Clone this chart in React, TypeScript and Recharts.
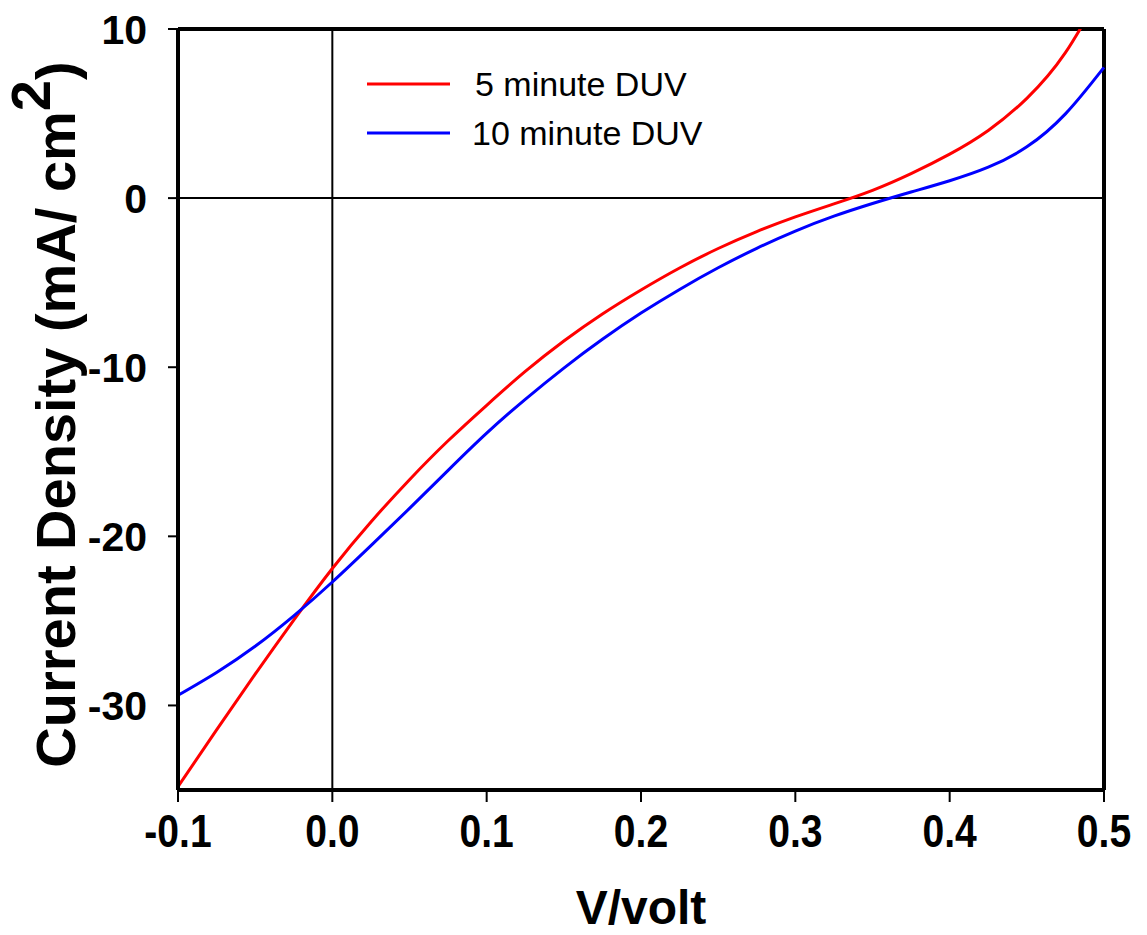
import { LineChart, Line, XAxis, YAxis, ReferenceLine } from "recharts";

// voltage sweep (V) and current density (mA/cm2)
const voltage = [
  -0.1, -0.075, -0.05, -0.025, 0, 0.025, 0.05, 0.075, 0.1, 0.125, 0.15, 0.175,
  0.2, 0.225, 0.25, 0.275, 0.3, 0.325, 0.35, 0.375, 0.4, 0.425, 0.45, 0.475, 0.5,
];
const duv5 = [
  -34.8, -31.45, -28.15, -24.95, -21.9, -19.15, -16.65, -14.35, -12.25, -10.25,
  -8.45, -6.85, -5.43, -4.13, -2.98, -1.98, -1.11, -0.34, 0.46, 1.45, 2.6, 4.0,
  5.9, 8.6, 12.5,
];
const duv10 = [
  -29.4, -28.05, -26.5, -24.7, -22.7, -20.55, -18.35, -16.1, -13.9, -11.9,
  -10.05, -8.35, -6.8, -5.4, -4.12, -2.97, -1.95, -1.07, -0.32, 0.36, 1.03, 1.83,
  3.03, 4.98, 7.73,
];
const xTicks = [-0.1, 0, 0.1, 0.2, 0.3, 0.4, 0.5];
const yTicks = [-30, -20, -10, 0, 10];
const seriesNames = ["5 minute DUV", "10 minute DUV"];
const seriesColors = ["#ff0000", "#0000ff"];

const data = voltage.map((v, i) => ({ v, a: duv5[i], b: duv10[i] }));

const FONT = "'Liberation Sans', Arial, sans-serif";

function XTick(props: any) {
  const { x, y, payload } = props;
  return (
    <g transform={`translate(${x},${y})`}>
      <text
        transform="scale(0.85,1)"
        textAnchor="middle"
        y={45}
        fontFamily={FONT}
        fontWeight="bold"
        fontSize={46}
        fill="#000"
      >
        {payload.value.toFixed(1)}
      </text>
    </g>
  );
}

function YTick(props: any) {
  const { x, y, payload } = props;
  return (
    <text
      x={x}
      y={y}
      dy="0.36em"
      textAnchor="end"
      fontFamily={FONT}
      fontWeight="bold"
      fontSize={41}
      fill="#000"
    >
      {payload.value}
    </text>
  );
}

function YTitle(props: any) {
  const vb = props.viewBox;
  const cx = 75;
  const cy = vb.y + vb.height / 2 + 5;
  return (
    <text
      transform={`translate(${cx},${cy}) rotate(-90)`}
      textAnchor="middle"
      fontFamily={FONT}
      fontWeight="bold"
      fontSize={56}
      fill="#000"
    >
      Current Density (mA/ cm
      <tspan dy={-25}>2</tspan>
      <tspan dy={25}>)</tspan>
    </text>
  );
}

function XTitle(props: any) {
  const vb = props.viewBox;
  return (
    <text
      x={vb.x + vb.width / 2}
      y={vb.y + 134}
      textAnchor="middle"
      fontFamily={FONT}
      fontWeight="bold"
      fontSize={48}
      fill="#000"
    >
      V/volt
    </text>
  );
}

function LegendBox() {
  return (
    <svg
      width={360}
      height={100}
      style={{ position: "absolute", left: 367, top: 64 }}
    >
      {seriesNames.map((name, i) => (
        <g key={name}>
          <line
            x1={0}
            x2={83}
            y1={20 + i * 49}
            y2={20 + i * 49}
            stroke={seriesColors[i]}
            strokeWidth={3}
          />
          <text
            x={i === 0 ? 108 : 105}
            y={32 + i * 49}
            fontFamily={FONT}
            fontSize={34}
            fill="#000"
          >
            {name}
          </text>
        </g>
      ))}
    </svg>
  );
}

export default function App() {
  return (
    <div
      style={{
        position: "absolute",
        left: 0,
        top: 0,
        width: 1147,
        height: 935,
        background: "#fff",
      }}
    >
      <LineChart
        width={1147}
        height={935}
        data={data}
        margin={{ top: 29, right: 43, left: 0, bottom: 0 }}
      >
        <XAxis
          dataKey="v"
          type="number"
          domain={[-0.1, 0.5]}
          ticks={xTicks}
          height={145}
          tickSize={12}
          tickMargin={0}
          tick={<XTick />}
          axisLine={{ stroke: "#000", strokeWidth: 4 }}
          tickLine={{ stroke: "#000", strokeWidth: 2 }}
          label={<XTitle />}
        />
        <YAxis
          type="number"
          domain={[-35, 10]}
          allowDataOverflow
          ticks={yTicks}
          width={178}
          tickSize={10}
          tickMargin={21}
          tick={<YTick />}
          axisLine={{ stroke: "#000", strokeWidth: 4 }}
          tickLine={{ stroke: "#000", strokeWidth: 2 }}
          label={<YTitle />}
        />
        <ReferenceLine x={0} stroke="#000" strokeWidth={2} />
        <ReferenceLine y={0} stroke="#000" strokeWidth={2} />
        <ReferenceLine y={10} stroke="#000" strokeWidth={4} />
        <ReferenceLine x={0.5} stroke="#000" strokeWidth={4} />
        <Line
          dataKey="a"
          name={seriesNames[0]}
          type="natural"
          stroke={seriesColors[0]}
          strokeWidth={3}
          dot={false}
          isAnimationActive={false}
        />
        <Line
          dataKey="b"
          name={seriesNames[1]}
          type="natural"
          stroke={seriesColors[1]}
          strokeWidth={3}
          dot={false}
          isAnimationActive={false}
        />
      </LineChart>
      <LegendBox />
    </div>
  );
}
